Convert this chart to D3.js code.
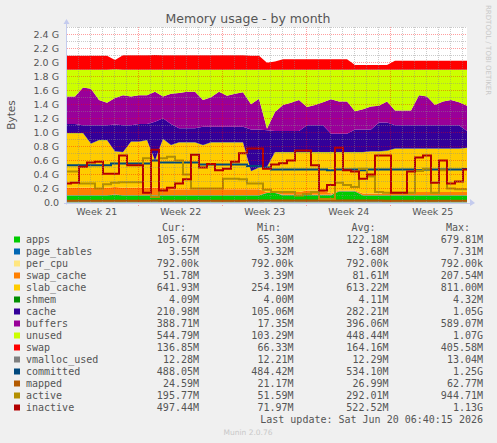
<!DOCTYPE html>
<html>
<head>
<meta charset="utf-8">
<script src="https://cdn.jsdelivr.net/npm/d3@7"></script>
<style>
body { margin: 0; background: #f0f0f0; }
svg { display: block; }
</style>
</head>
<body>
<div id="chart"></div>
<script>
// values in GiB, one sample every 16h across the month (51 samples)
var apps = [0.10,0.10,0.10,0.10,0.10,0.10,0.11,0.10,0.10,0.10,
  0.10,0.10,0.10,0.10,0.10,0.10,0.10,0.10,0.10,0.10,
  0.10,0.10,0.10,0.10,0.10,0.135,0.135,0.105,0.105,0.105,
  0.105,0.105,0.105,0.105,0.155,0.155,0.155,0.10,0.10,0.10,
  0.10,0.10,0.10,0.10,0.10,0.10,0.10,0.10,0.10,0.10,0.10];
var pageTables = [0.0035,0.0035,0.0035,0.0035,0.0035,0.0035,0.0036,0.0035,0.0035,0.0035,
  0.0035,0.0036,0.0035,0.0035,0.0035,0.0035,0.0035,0.0035,0.0035,0.0035,
  0.0035,0.0035,0.0035,0.0035,0.0035,0.0040,0.0038,0.0035,0.0035,0.0035,
  0.0035,0.0035,0.0035,0.0035,0.0037,0.0037,0.0036,0.0035,0.0035,0.0035,
  0.0035,0.0035,0.0035,0.0035,0.0035,0.0035,0.0035,0.0035,0.0035,0.0035,0.0035];
var perCpu = [0.00077,0.00077,0.00077,0.00077,0.00077,0.00077,0.00077,0.00077,0.00077,0.00077,
  0.00077,0.00077,0.00077,0.00077,0.00077,0.00077,0.00077,0.00077,0.00077,0.00077,
  0.00077,0.00077,0.00077,0.00077,0.00077,0.00077,0.00077,0.00077,0.00077,0.00077,
  0.00077,0.00077,0.00077,0.00077,0.00077,0.00077,0.00077,0.00077,0.00077,0.00077,
  0.00077,0.00077,0.00077,0.00077,0.00077,0.00077,0.00077,0.00077,0.00077,0.00077,0.00077];
var swapCache = [0.105,0.105,0.105,0.105,0.105,0.105,0.105,0.105,0.105,0.105,
  0.105,0.105,0.105,0.085,0.085,0.085,0.085,0.085,0.085,0.085,
  0.085,0.085,0.085,0.085,0.085,0.01,0.01,0.04,0.04,0.04,
  0.06,0.06,0.06,0.02,0.01,0.01,0.01,0.025,0.025,0.025,
  0.025,0.045,0.045,0.045,0.045,0.045,0.045,0.045,0.045,0.045,0.045];
var slabCache = [0.776,0.776,0.776,0.626,0.676,0.676,0.506,0.506,0.656,0.656,
  0.676,0.386,0.696,0.626,0.666,0.666,0.666,0.626,0.666,0.666,
  0.666,0.666,0.666,0.256,0.306,0.356,0.566,0.566,0.566,0.566,
  0.546,0.546,0.546,0.586,0.546,0.546,0.546,0.586,0.596,0.596,
  0.606,0.616,0.616,0.616,0.616,0.616,0.616,0.616,0.616,0.616,0.626];
var shmem = [0.004,0.004,0.004,0.004,0.004,0.004,0.004,0.004,0.004,0.004,
  0.004,0.004,0.004,0.004,0.004,0.004,0.004,0.004,0.004,0.004,
  0.004,0.004,0.004,0.004,0.004,0.004,0.004,0.004,0.004,0.004,
  0.004,0.004,0.004,0.004,0.004,0.004,0.004,0.004,0.004,0.004,
  0.004,0.004,0.004,0.004,0.004,0.004,0.004,0.004,0.004,0.004,0.004];
var cache = [0.13,0.13,0.11,0.26,0.21,0.21,0.38,0.38,0.23,0.25,
  0.23,0.55,0.29,0.30,0.20,0.20,0.20,0.26,0.22,0.22,
  0.22,0.22,0.22,0.59,0.54,0.52,0.30,0.30,0.30,0.30,
  0.38,0.38,0.38,0.26,0.26,0.26,0.32,0.32,0.31,0.41,
  0.40,0.33,0.33,0.33,0.33,0.33,0.33,0.33,0.33,0.33,0.24];
var buffers = [0.39,0.39,0.54,0.52,0.36,0.32,0.38,0.43,0.41,0.41,
  0.41,0.43,0.31,0.43,0.50,0.52,0.52,0.38,0.42,0.50,
  0.44,0.47,0.49,0.36,0.44,0.02,0.27,0.37,0.40,0.44,
  0.26,0.29,0.33,0.49,0.46,0.46,0.26,0.29,0.33,0.24,
  0.30,0.21,0.21,0.21,0.43,0.41,0.29,0.34,0.36,0.33,0.36];
var unused = [0.38,0.38,0.25,0.27,0.43,0.47,0.41,0.36,0.38,0.36,
  0.36,0.31,0.38,0.34,0.33,0.31,0.31,0.43,0.39,0.31,
  0.37,0.34,0.32,0.49,0.41,0.84,0.60,0.50,0.47,0.43,
  0.53,0.50,0.46,0.42,0.45,0.45,0.59,0.56,0.52,0.51,
  0.45,0.58,0.58,0.58,0.36,0.38,0.50,0.45,0.43,0.46,0.51];
var swap = [0.20,0.20,0.20,0.20,0.20,0.20,0.13,0.21,0.21,0.21,
  0.21,0.21,0.21,0.21,0.21,0.21,0.21,0.21,0.21,0.21,
  0.21,0.21,0.21,0.20,0.20,0.10,0.12,0.15,0.15,0.15,
  0.15,0.15,0.15,0.15,0.15,0.15,0.07,0.07,0.07,0.07,
  0.07,0.13,0.13,0.13,0.13,0.13,0.13,0.13,0.13,0.13,0.13];
var vmallocUsed = [0.012,0.012,0.012,0.012,0.012,0.012,0.012,0.012,0.012,0.012,
  0.012,0.012,0.012,0.012,0.012,0.012,0.012,0.012,0.012,0.012,
  0.012,0.012,0.012,0.012,0.012,0.0127,0.012,0.012,0.012,0.012,
  0.012,0.012,0.012,0.012,0.012,0.012,0.012,0.012,0.012,0.012,
  0.012,0.012,0.012,0.012,0.012,0.012,0.012,0.012,0.012,0.012,0.012];
var committed = [0.53,0.53,0.53,0.53,0.53,0.53,0.555,0.555,0.555,0.555,
  0.555,0.60,0.57,0.57,0.57,0.57,0.57,0.54,0.54,0.54,
  0.54,0.54,0.54,0.52,0.52,0.50,0.47,0.47,0.47,0.47,
  0.47,0.47,0.47,0.46,0.47,0.47,0.47,0.46,0.47,0.47,
  0.47,0.47,0.47,0.47,0.46,0.47,0.47,0.47,0.47,0.47,0.477];
var mapped = [0.025,0.025,0.026,0.026,0.025,0.025,0.026,0.026,0.025,0.025,
  0.026,0.028,0.026,0.026,0.026,0.026,0.026,0.026,0.026,0.026,
  0.026,0.026,0.026,0.027,0.027,0.030,0.028,0.027,0.027,0.027,
  0.027,0.027,0.027,0.027,0.028,0.028,0.027,0.027,0.027,0.027,
  0.026,0.026,0.026,0.026,0.026,0.026,0.026,0.025,0.025,0.024,0.024];
var active = [0.44,0.44,0.27,0.27,0.20,0.26,0.28,0.29,0.29,0.29,
  0.63,0.08,0.63,0.65,0.60,0.40,0.20,0.20,0.20,0.20,
  0.34,0.34,0.33,0.27,0.27,0.18,0.15,0.15,0.15,0.10,
  0.12,0.15,0.05,0.05,0.28,0.25,0.22,0.48,0.37,0.15,
  0.14,0.14,0.14,0.14,0.45,0.48,0.14,0.46,0.20,0.19,0.19];
var inactive = [0.27,0.28,0.51,0.57,0.58,0.41,0.41,0.67,0.53,0.53,
  0.14,0.75,0.17,0.21,0.27,0.33,0.68,0.50,0.55,0.46,
  0.48,0.58,0.70,0.77,0.77,0.48,0.54,0.56,0.60,0.74,
  0.74,0.53,0.17,0.25,0.78,0.46,0.44,0.34,0.40,0.67,
  0.67,0.14,0.14,0.44,0.64,0.67,0.28,0.60,0.27,0.30,0.47];

var yTicks = [0, 0.2, 0.4, 0.6, 0.8, 1.0, 1.2, 1.4, 1.6, 1.8, 2.0, 2.2, 2.4];

// legend table
var legendNames = ["apps","page_tables","per_cpu","swap_cache","slab_cache","shmem","cache","buffers","unused","swap","vmalloc_used","committed","mapped","active","inactive"];
var legendColors = ["#00CC00","#0066B3","#FFE680","#FF8000","#FFCC00","#008F00","#330099","#990099","#CCFF00","#FF0000","#808080","#00487D","#B35A00","#B38F00","#B30000"];
var curValues = ["105.67M","3.55M","792.00k","51.78M","641.93M","4.09M","210.98M","388.71M","544.79M","136.85M","12.28M","488.05M","24.59M","195.77M","497.44M"];
var minValues = ["65.30M","3.32M","792.00k","3.39M","254.19M","4.00M","105.06M","17.35M","103.29M","66.33M","12.21M","484.42M","21.17M","51.59M","71.97M"];
var avgValues = ["122.18M","3.68M","792.00k","81.61M","613.22M","4.11M","282.21M","396.06M","448.44M","164.16M","12.29M","534.10M","26.99M","292.01M","522.52M"];
var maxValues = ["679.81M","7.31M","792.00k","207.54M","811.00M","4.32M","1.05G","589.07M","1.07G","405.58M","13.04M","1.25G","62.77M","944.71M","1.13G"];

var width = 497, height = 443;
var plotLeft = 67, plotRight = 467, plotTop = 27, plotBottom = 202.5;

var startTime = new Date(Date.UTC(2026, 4, 19, 1, 24));
var stepMs = 16 * 3600 * 1000;
var endTime = new Date(startTime.getTime() + 50 * stepMs);

var x = d3.scaleUtc().domain([startTime, endTime]).range([plotLeft, plotRight]);
var y = d3.scaleLinear().domain([0, 2.5]).range([plotBottom, plotTop]);

var stackKeys = ["apps","page_tables","per_cpu","swap_cache","slab_cache","shmem","cache","buffers","unused","swap"];
var series = {
  apps: apps, page_tables: pageTables, per_cpu: perCpu, swap_cache: swapCache,
  slab_cache: slabCache, shmem: shmem, cache: cache, buffers: buffers,
  unused: unused, swap: swap
};
var colorOf = {};
legendNames.forEach((n, i) => colorOf[n] = legendColors[i]);

var table = apps.map((v, i) => {
  var row = {time: new Date(startTime.getTime() + i * stepMs)};
  stackKeys.forEach(k => row[k] = series[k][i]);
  return row;
});
var stacked = d3.stack().keys(stackKeys)(table);

var svg = d3.select("#chart").append("svg")
  .attr("width", width)
  .attr("height", height)
  .style("background", "#f0f0f0");

svg.append("rect")
  .attr("x", plotLeft).attr("y", plotTop)
  .attr("width", plotRight - plotLeft).attr("height", plotBottom - plotTop)
  .attr("fill", "#ffffff");

svg.append("clipPath").attr("id", "plot")
  .append("rect")
  .attr("x", plotLeft).attr("y", plotTop)
  .attr("width", plotRight - plotLeft).attr("height", plotBottom - plotTop);

var plot = svg.append("g").attr("clip-path", "url(#plot)");

var area = d3.area()
  .x(d => x(d.data.time))
  .y0(d => y(d[0]))
  .y1(d => y(d[1]));

plot.selectAll("path.layer")
  .data(stacked)
  .join("path")
  .attr("class", "layer")
  .attr("fill", d => colorOf[d.key])
  .attr("d", area);

/* grid is drawn over the areas, like rrdtool does */
var grid = svg.append("g").attr("shape-rendering", "crispEdges");
d3.range(1, 26).forEach(k => {
  var yy = Math.round(y(k / 10)) + 0.5;
  grid.append("line")
    .attr("x1", plotLeft).attr("x2", plotRight)
    .attr("y1", yy).attr("y2", yy)
    .attr("stroke", k % 2 == 0 ? "rgba(255,0,0,0.38)" : "rgba(140,140,140,0.45)")
    .attr("stroke-dasharray", "1,1");
});
d3.utcDay.range(startTime, endTime).forEach(d => {
  var xx = Math.round(x(d)) + 0.5;
  var major = d.getUTCDay() == 1;
  grid.append("line")
    .attr("x1", xx).attr("x2", xx)
    .attr("y1", plotTop).attr("y2", plotBottom + (major ? 3 : 0))
    .attr("stroke", major ? "rgba(255,0,0,0.38)" : "rgba(140,140,140,0.45)")
    .attr("stroke-dasharray", "1,1");
});

var lineKeys = [
  {name: "vmalloc_used", values: vmallocUsed},
  {name: "committed", values: committed},
  {name: "mapped", values: mapped},
  {name: "active", values: active},
  {name: "inactive", values: inactive}
];
var line = d3.line()
  .curve(d3.curveStep)
  .x((d, i) => x(table[i].time))
  .y(d => y(d));

plot.selectAll("path.series")
  .data(lineKeys)
  .join("path")
  .attr("class", "series")
  .attr("fill", "none")
  .attr("stroke", d => colorOf[d.name])
  .attr("stroke-width", 2)
  .attr("d", d => line(d.values));

// axes lines and arrows
var axisColor = "#c4cbee";
svg.append("line")
  .attr("x1", plotLeft - 0.5).attr("x2", plotLeft - 0.5)
  .attr("y1", plotBottom + 2).attr("y2", plotTop - 4)
  .attr("stroke", axisColor);
svg.append("line")
  .attr("x1", plotLeft - 3).attr("x2", plotRight + 3)
  .attr("y1", Math.round(plotBottom) + 0.5).attr("y2", Math.round(plotBottom) + 0.5)
  .attr("stroke", axisColor);
svg.append("path")
  .attr("d", `M${plotLeft - 3.5},${plotTop - 3} L${plotLeft - 0.5},${plotTop - 8} L${plotLeft + 2.5},${plotTop - 3} Z`)
  .attr("fill", axisColor);
svg.append("path")
  .attr("d", `M${plotRight + 3},${plotBottom - 3.5} L${plotRight + 8},${plotBottom + 0.5} L${plotRight + 3},${plotBottom + 3.5} Z`)
  .attr("fill", axisColor);

var tickFont = "DejaVu Sans, sans-serif";

var yAxis = svg.append("g")
  .attr("transform", `translate(${plotLeft},0)`)
  .call(d3.axisLeft(y).tickValues(yTicks).tickSize(0).tickPadding(8)
    .tickFormat(d => d == 0 ? "0.0" : d3.format(".1f")(d) + " G"));
yAxis.select(".domain").remove();
yAxis.selectAll("text")
  .attr("fill", "#555")
  .style("font", "9.5px " + tickFont);

// week labels sit in the middle of each week
var weekMids = d3.utcMonday.range(d3.utcMonday.floor(startTime), endTime)
  .map(d => d3.utcHour.offset(d, 84));
var xAxis = svg.append("g")
  .attr("transform", `translate(0,${plotBottom})`)
  .call(d3.axisBottom(x).tickValues(weekMids).tickSize(0).tickPadding(6)
    .tickFormat(d3.utcFormat("Week %V")));
xAxis.select(".domain").remove();
xAxis.selectAll("text")
  .attr("fill", "#555")
  .style("font", "9.5px " + tickFont);

svg.append("text")
  .attr("x", 248).attr("y", 23)
  .attr("text-anchor", "middle")
  .attr("fill", "#555")
  .style("font", "12.5px " + tickFont)
  .text("Memory usage - by month");

svg.append("text")
  .attr("transform", "translate(15,115) rotate(-90)")
  .attr("text-anchor", "middle")
  .attr("fill", "#555")
  .style("font", "10.5px " + tickFont)
  .text("Bytes");

svg.append("text")
  .attr("transform", "translate(486,5) rotate(90)")
  .attr("fill", "#c8c8c8")
  .style("font", "7px " + tickFont)
  .text("RRDTOOL / TOBI OETIKER");

/* Legend table under the graph */
var mono = "10px DejaVu Sans Mono, monospace";
var legend = svg.append("g").attr("fill", "#555").style("font", mono);
var headers = [["Cur:", 186], ["Min:", 281], ["Avg:", 375.5], ["Max:", 470]];
headers.forEach(h => {
  legend.append("text").attr("x", h[1]).attr("y", 231)
    .attr("text-anchor", "end").text(h[0]);
});
var columns = [[curValues, 199], [minValues, 293.5], [avgValues, 388.5], [maxValues, 483]];
legendNames.forEach((name, i) => {
  var base = 242.5 + i * 12;
  legend.append("rect")
    .attr("x", 14).attr("y", base - 6)
    .attr("width", 6).attr("height", 6)
    .attr("fill", legendColors[i]);
  legend.append("text").attr("x", 26).attr("y", base).text(name);
  columns.forEach(c => {
    legend.append("text").attr("x", c[1]).attr("y", base)
      .attr("text-anchor", "end").text(c[0][i]);
  });
});
legend.append("text")
  .attr("x", 483).attr("y", 422.5)
  .attr("text-anchor", "end")
  .text("Last update: Sat Jun 20 06:40:15 2026");

svg.append("text")
  .attr("x", 248).attr("y", 435)
  .attr("text-anchor", "middle")
  .attr("fill", "#c8c8c8")
  .style("font", "7.5px " + tickFont)
  .text("Munin 2.0.76");
</script>
</body>
</html>
